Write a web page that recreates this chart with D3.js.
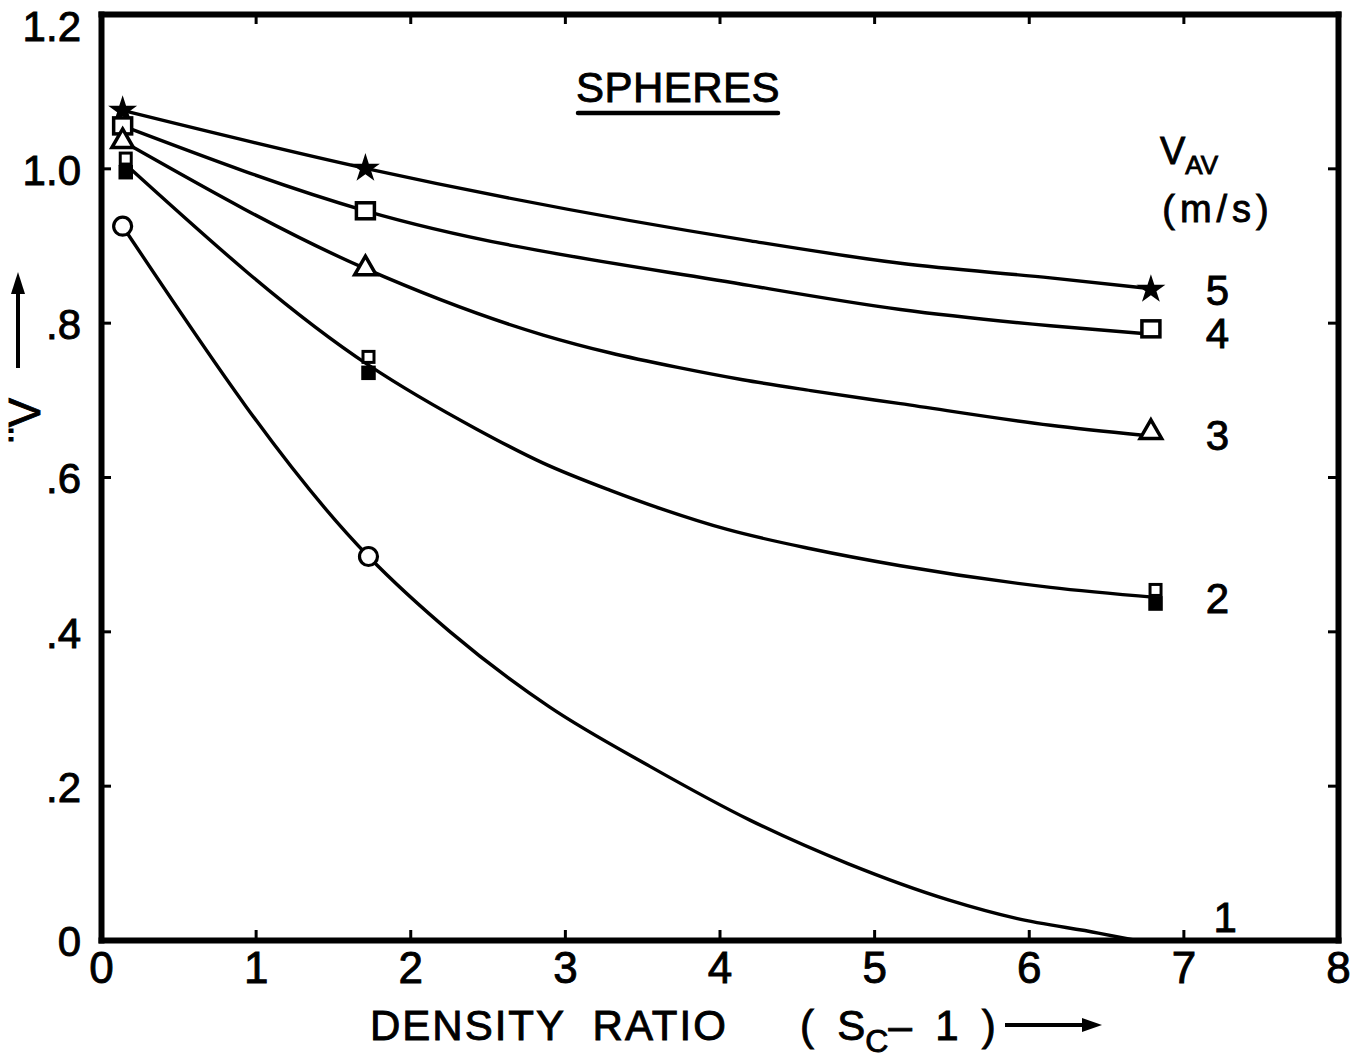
<!DOCTYPE html>
<html><head><meta charset="utf-8">
<script src="https://cdn.jsdelivr.net/npm/d3@7"></script>
<style>
body{margin:0;background:#fff}
svg{display:block;background:#fff}
text{font-family:"Liberation Sans",Arial,sans-serif;fill:#000;stroke:#000;stroke-width:0.9px}
</style></head>
<body><svg id="c" width="1350" height="1059"></svg>
<script>
// ---- data ----
const xTicks=[0,1,2,3,4,5,6,7,8];
const xTickLabels=["0","1","2","3","4","5","6","7","8"];
const yTicks=[0,0.2,0.4,0.6,0.8,1.0,1.2];
const yTickLabels=["0",".2",".4",".6",".8","1.0","1.2"];
const seriesNames=["5","4","3","2","1"]; // V_AV (m/s)

const densityRatio=[0.14,1.71,6.79];
const v5=[1.075,1.000,0.843];
const v4=[1.055,0.945,0.792];
const v3=[1.035,0.870,0.658];
const densityRatio2=[0.16,1.73,6.82];
const v2open=[1.012,0.755,0.453];
const v2filled=[0.995,0.735,0.436];
const densityRatio1=[0.14,1.73];
const v1=[0.925,0.497];

// smooth curves
const curve5=[[0.14,1.075],[1.71,1.000],[4.20,0.906],[5.17,0.877],[6.14,0.858],[6.75,0.845]];
const curve4=[[0.14,1.055],[1.71,0.945],[4.20,0.848],[5.17,0.817],[6.14,0.796],[6.74,0.786]];
const curve3=[[0.14,1.035],[1.71,0.870],[2.86,0.784],[3.29,0.761],[3.73,0.742],[4.15,0.726],[4.59,0.712],[5.17,0.695],[6.14,0.667],[6.74,0.654]];
const curve2=[[0.16,1.005],[1.73,0.745],[2.43,0.662],[2.86,0.618],[3.29,0.583],[3.62,0.559],[4.05,0.532],[4.59,0.507],[5.17,0.485],[6.14,0.457],[6.82,0.444]];
const curve1=[[0.14,0.925],[1.73,0.497],[2.26,0.399],[2.90,0.302],[3.55,0.225],[4.20,0.155],[4.83,0.099],[5.48,0.052],[5.92,0.028],[6.45,0.009],[6.68,0.0]];

// ---- drawing ----
const svg=d3.select("#c");
const x=d3.scaleLinear().domain([0,8]).range([101,1338]);
const y=d3.scaleLinear().domain([0,1.2]).range([940,14]);

const line=d3.line().x(d=>x(d[0])).y(d=>y(d[1])).curve(d3.curveMonotoneX);
const curves=[curve5,curve4,curve3,curve2,curve1];
svg.append("g").selectAll("path").data(curves).join("path")
  .attr("d",line).attr("fill","none").attr("stroke","#000").attr("stroke-width",3.4);

// axes
function styleAxis(g){
  g.select(".domain").attr("stroke","#000").attr("stroke-width",6).attr("stroke-linecap","square");
  g.selectAll(".tick line").attr("stroke","#000").attr("stroke-width",3);
  g.selectAll(".tick text").style("font-family",'"Liberation Sans",Arial,sans-serif').attr("fill","#000");
}
svg.append("g").attr("transform",`translate(0,${y(0)})`)
  .call(d3.axisBottom(x).tickValues(xTicks).tickFormat((d,i)=>xTickLabels[i]).tickSizeInner(-10).tickSizeOuter(0).tickPadding(12))
  .call(styleAxis).call(g=>g.selectAll(".tick text").attr("font-size",44));
svg.append("g").attr("transform",`translate(0,${y(1.2)})`)
  .call(d3.axisTop(x).tickValues(xTicks).tickFormat("").tickSizeInner(-10).tickSizeOuter(0))
  .call(styleAxis);
svg.append("g").attr("transform",`translate(${x(0)},0)`)
  .call(d3.axisLeft(y).tickValues(yTicks).tickFormat((d,i)=>yTickLabels[i]).tickSizeInner(-10).tickSizeOuter(0).tickPadding(20))
  .call(styleAxis)
  .call(g=>g.selectAll(".tick text").attr("font-size",42).attr("dy",d=>d===1.2?"0.62em":"0.38em"));
svg.append("g").attr("transform",`translate(${x(8)},0)`)
  .call(d3.axisRight(y).tickValues(yTicks).tickFormat("").tickSizeInner(-10).tickSizeOuter(0))
  .call(styleAxis);

// markers
const mk=svg.append("g");
mk.selectAll(".star").data(densityRatio.map((d,i)=>[d,v5[i]])).join("path")
  .attr("transform",d=>`translate(${x(d[0])},${y(d[1])})`)
  .attr("d",d3.symbol(d3.symbolStar,260)).attr("fill","#000");
mk.selectAll(".sq").data(densityRatio.map((d,i)=>[d,v4[i]])).join("rect")
  .attr("x",d=>x(d[0])-9).attr("y",d=>y(d[1])-8).attr("width",18).attr("height",16)
  .attr("fill","#fff").attr("stroke","#000").attr("stroke-width",3.5);
mk.selectAll(".tri").data(densityRatio.map((d,i)=>[d,v3[i]])).join("path")
  .attr("transform",d=>`translate(${x(d[0])},${y(d[1])})`)
  .attr("d",d3.symbol(d3.symbolTriangle,200)).attr("fill","#fff").attr("stroke","#000").attr("stroke-width",3.5);
mk.selectAll(".sq2f").data(densityRatio2.map((d,i)=>[d,v2filled[i]])).join("rect")
  .attr("x",d=>x(d[0])-6).attr("y",d=>y(d[1])-6).attr("width",12).attr("height",12)
  .attr("fill","#000").attr("stroke","#000").attr("stroke-width",2.5);
mk.selectAll(".sq2o").data(densityRatio2.map((d,i)=>[d,v2open[i]])).join("rect")
  .attr("x",d=>x(d[0])-5.5).attr("y",d=>y(d[1])-6).attr("width",11).attr("height",11)
  .attr("fill","#fff").attr("stroke","#000").attr("stroke-width",3);
mk.selectAll(".circ").data(densityRatio1.map((d,i)=>[d,v1[i]])).join("circle")
  .attr("cx",d=>x(d[0])).attr("cy",d=>y(d[1])).attr("r",9)
  .attr("fill","#fff").attr("stroke","#000").attr("stroke-width",3.2);

// series labels
const labelY=[v5[2],v4[2]-0.005,v3[2]-0.003,0.444,0.03];
svg.append("g").selectAll("text").data(seriesNames).join("text")
  .attr("x",(d,i)=>x(i===4?7.27:7.22)).attr("y",(d,i)=>y(labelY[i]))
  .attr("text-anchor","middle").attr("dy","0.36em").attr("font-size",42).text(d=>d);

// legend heading
const vt=svg.append("text").attr("x",1160).attr("y",164).attr("font-size",38);
vt.append("tspan").text("V");
vt.append("tspan").attr("font-size",26).attr("dy",10).text("AV");
svg.append("text").attr("x",1218).attr("y",222).attr("text-anchor","middle")
  .attr("font-size",38).attr("letter-spacing",5).text("(m/s)");

// title
svg.append("text").attr("x",678).attr("y",102).attr("text-anchor","middle")
  .attr("font-size",42).attr("letter-spacing",0.5).text("SPHERES");
svg.append("line").attr("x1",578).attr("x2",778).attr("y1",113).attr("y2",113)
  .attr("stroke","#000").attr("stroke-width",4.5).attr("stroke-linecap","round");

// x axis title
svg.append("text").attr("x",370).attr("y",1040).attr("font-size",42).attr("letter-spacing",2)
  .attr("xml:space","preserve").text("DENSITY  RATIO");
const xt=svg.append("text").attr("x",800).attr("y",1040).attr("font-size",42).attr("xml:space","preserve");
xt.append("tspan").text("(  S");
xt.append("tspan").attr("font-size",32).attr("dy",12).text("C");
xt.append("tspan").attr("dy",-12).text("–  1  )");
svg.append("line").attr("x1",1005).attr("x2",1085).attr("y1",1025).attr("y2",1025)
  .attr("stroke","#000").attr("stroke-width",4);
svg.append("path").attr("d","M1102,1025 L1082,1018 L1082,1032 Z").attr("fill","#000");

// y axis title (rotated)
svg.append("text").attr("transform","translate(40,442) rotate(-90)")
  .attr("font-size",44).text("¨V");
svg.append("line").attr("x1",18).attr("x2",18).attr("y1",368).attr("y2",292)
  .attr("stroke","#000").attr("stroke-width",4);
svg.append("path").attr("d","M18,272 L11,294 L25,294 Z").attr("fill","#000");
</script></body></html>
